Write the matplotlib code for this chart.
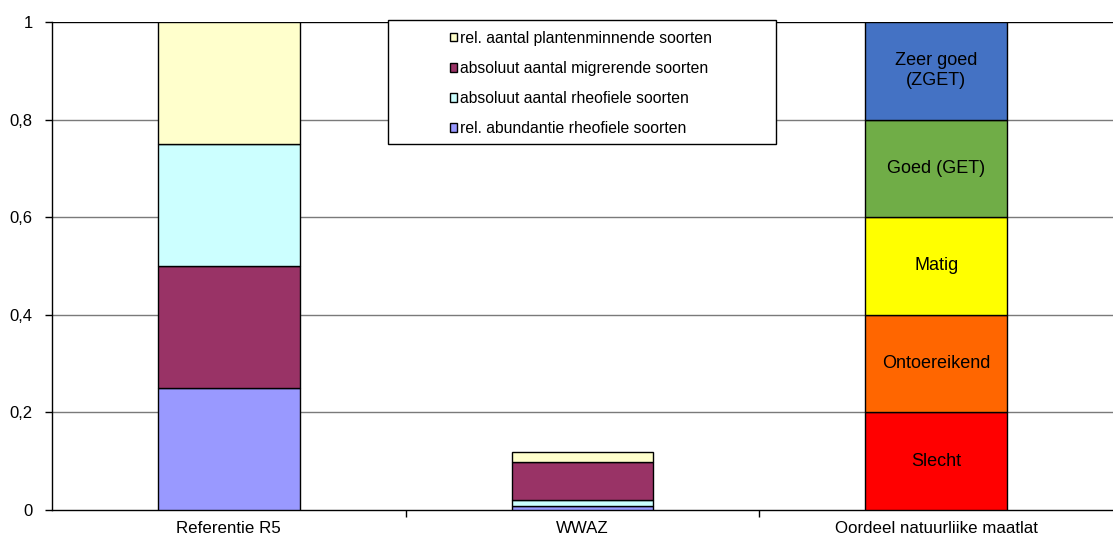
import matplotlib.pyplot as plt
from matplotlib.patches import Rectangle

plt.rcParams['font.family'] = ['Liberation Sans', 'DejaVu Sans']

# categories on the x axis
categories = ['Referentie R5', 'WWAZ', 'Oordeel natuurliike maatlat']

# metric components
metric_names = ['rel. abundantie rheofiele soorten',
                'absoluut aantal rheofiele soorten',
                'absoluut aantal migrerende soorten',
                'rel. aantal plantenminnende soorten']
metric_colors = ['#9999FF', '#CCFFFF', '#993366', '#FFFFCC']

# reference bar: values and stacking order (indices into metric_names, bottom to top)
referentie = [0.25, 0.25, 0.25, 0.25]
referentie_order = [0, 2, 1, 3]
# measured bar, stacked in metric_names order
wwaz = [0.008, 0.012, 0.079, 0.019]

# quality classes of the scale (bottom to top)
class_names = ['Slecht', 'Ontoereikend', 'Matig', 'Goed (GET)', 'Zeer goed\n(ZGET)']
class_colors = ['#FF0000', '#FF6600', '#FFFF00', '#70AD47', '#4472C4']
class_sizes = [0.2, 0.2, 0.2, 0.2, 0.2]

yticks = [0, 0.2, 0.4, 0.6, 0.8, 1.0]
ytick_labels = ['0', '0,2', '0,4', '0,6', '0,8', '1']

fig = plt.figure(figsize=(11.13, 5.37), dpi=100)
ax = fig.add_axes([52 / 1113, 1 - 510 / 537, 1 - 52 / 1113, 488 / 537])

width = 0.40

# referentie bar
bot = 0
for i in referentie_order:
    ax.bar(0, referentie[i], width, bottom=bot, color=metric_colors[i],
           edgecolor='black', linewidth=1, zorder=3)
    bot += referentie[i]

# wwaz bar, these rectangles also feed the legend
handles = []
bot = 0
for val, name, col in zip(wwaz, metric_names, metric_colors):
    b = ax.bar(1, val, width, bottom=bot, color=col, edgecolor='black',
               linewidth=1, label=name, zorder=3)
    handles.append(b)
    bot += val

# scale bar with class labels
bot = 0
for size, name, col in zip(class_sizes, class_names, class_colors):
    ax.bar(2, size, width, bottom=bot, color=col, edgecolor='black',
           linewidth=1, zorder=3)
    ax.text(2, bot + size / 2, name, ha='center', va='center', fontsize=13,
            linespacing=1.25, zorder=4)
    bot += size

ax.set_xlim(-0.5, 2.5)
ax.set_ylim(0, 1)
ax.set_yticks(yticks)
ax.set_yticklabels(ytick_labels, fontsize=12)
ax.set_xticks([0, 1, 2])
ax.set_xticklabels(categories, fontsize=12.2)
ax.tick_params(axis='x', length=0, pad=8)
ax.tick_params(axis='y', length=5, width=1, direction='out', pad=9)
ax.set_xticks([0.5, 1.5], minor=True)
ax.tick_params(axis='x', which='minor', length=5, width=1, direction='out')

for v in yticks[1:]:
    ax.axhline(v, color='#7a7a7a' if v < 1 else 'black', linewidth=1, zorder=1)

for side in ['top', 'right']:
    ax.spines[side].set_visible(False)
ax.spines['left'].set_linewidth(1)
ax.spines['bottom'].set_linewidth(1)

# legend box, entries listed top to bottom in reverse stacking order
fig.patches.append(Rectangle((388 / 1113, 1 - 144 / 537), 388 / 1113, 124 / 537,
                             transform=fig.transFigure, facecolor='white',
                             edgecolor='black', linewidth=1, zorder=5))
leg = fig.legend(handles[::-1], metric_names[::-1], loc='upper left',
                 bbox_to_anchor=(437 / 1113, 1 - 18 / 537), frameon=False,
                 fontsize=11.3, handlelength=0.5, handleheight=0.5,
                 handletextpad=0.15, labelspacing=0.97, borderpad=0.3)
leg.set_zorder(6)

fig.savefig('out.png', dpi=100)
